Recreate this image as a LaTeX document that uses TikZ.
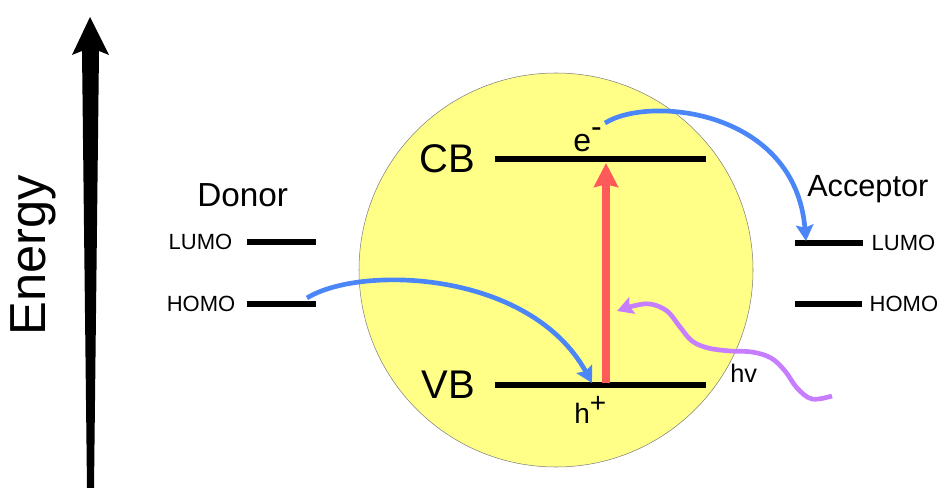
\documentclass[tikz,border=0pt]{standalone}
\usepackage{fontspec}
\setmainfont{Liberation Sans}
\usetikzlibrary{arrows.meta}
\definecolor{dotfill}{RGB}{255,255,136}
\definecolor{transferblue}{RGB}{74,134,247}
\definecolor{excitered}{RGB}{255,90,90}
\definecolor{photonpurple}{RGB}{199,125,255}

\begin{document}
\begin{tikzpicture}[x=0.75pt,y=0.75pt,yscale=-1,xscale=1,
  bandline/.style={line width=4.5pt},
  transfer/.style={color=transferblue, line width=3.5pt, -{Stealth[length=12pt,width=13pt,inset=2pt]}},
  photon/.style={color=photonpurple, line width=3.5pt, -{Stealth[length=12pt,width=13pt,inset=2pt]}}]
\useasboundingbox (0,0) rectangle (945,488);

%Shape: Energy axis
\fill (87,488) -- (94,488) -- (99,51) -- (109,55) -- (90,17) -- (72,55) -- (82,51) -- cycle ;
% Text Node
\node [rotate=90, font=\fontsize{38}{42}\selectfont] (energy) at (33,255) {Energy};

%Shape: Circle (particle)
\draw [color=gray, line width=0.4pt, fill=dotfill] (556,270) circle [radius=197] ;

%Straight Lines: bands and levels
\coordinate (cbA) at (495,159) ; \coordinate (cbB) at (706,159) ;
\coordinate (vbA) at (495,385) ; \coordinate (vbB) at (706,385) ;
\coordinate (dLumoA) at (247,242) ; \coordinate (dLumoB) at (316,242) ;
\coordinate (dHomoA) at (247,304) ; \coordinate (dHomoB) at (316,304) ;
\coordinate (aLumoA) at (795,243) ; \coordinate (aLumoB) at (863,243) ;
\coordinate (aHomoA) at (795,304) ; \coordinate (aHomoB) at (862,304) ;
\draw [bandline] (cbA) -- (cbB) ;
\draw [bandline] (vbA) -- (vbB) ;
\draw [bandline] (dLumoA) -- (dLumoB) ;
\draw [bandline] (dHomoA) -- (dHomoB) ;
\draw [bandline] (aLumoA) -- (aLumoB) ;
\draw [bandline] (aHomoA) -- (aHomoB) ;

%Straight Lines: excitation
\coordinate (excStart) at (606,383) ; \coordinate (excEnd) at (606,163) ;
\draw [color=excitered, line width=5.5pt, -{Stealth[length=18pt,width=18pt,inset=2pt]}] (excStart) -- (excEnd) ;

%Curves: charge transfer
\coordinate (holeIn) at (592,383) ; \coordinate (elecOut) at (605,123) ;
\coordinate (donorOut) at (307,298) ; \coordinate (accIn) at (806,241) ;
\draw [transfer] (donorOut) .. controls (360,265) and (530,270) .. (holeIn) ;
\draw [transfer] (elecOut) .. controls (650,95) and (795,110) .. (accIn) ;

%Curve: photon
\coordinate (photonTip) at (617,311) ;
\draw [photon] plot [smooth, tension=0.6] coordinates {(832,396) (812,399) (797,388) (785,371) (771,358) (752,352) (730,351) (708,348) (692,341) (680,327) (667,311) (650,304) (633,306) (photonTip)} ;

% Text Node
\node [anchor=east, font=\fontsize{30}{33}\selectfont] (cb) at (480,159) {CB};
% Text Node
\node [anchor=east, font=\fontsize{30}{33}\selectfont] (vb) at (480,385) {VB};
% Text Node
\node [anchor=base west, inner sep=0pt, font=\fontsize{24}{28}\selectfont] (elec) at (573,152) {e\raisebox{11pt}{-}};
% Text Node
\node [anchor=base west, inner sep=0pt, font=\fontsize{21}{25}\selectfont] (hole) at (574,423) {h\raisebox{8pt}{+}};
% Text Node
\node [anchor=base west, inner sep=0pt, font=\fontsize{19}{23}\selectfont] (hv) at (730,382) {hv};
% Text Node
\node [anchor=base west, inner sep=0pt, font=\fontsize{25}{29}\selectfont] (donor) at (197,207) {Donor};
% Text Node
\node [anchor=base west, inner sep=0pt, font=\fontsize{23}{27}\selectfont] (acceptor) at (807,197) {Acceptor};
% Text Node
\node [anchor=east, font=\fontsize{16.5}{20}\selectfont] (dLumo) at (237,242) {LUMO};
% Text Node
\node [anchor=east, font=\fontsize{16.5}{20}\selectfont] (dHomo) at (240,304) {HOMO};
% Text Node
\node [anchor=west, font=\fontsize{16.5}{20}\selectfont] (aLumo) at (867,243) {LUMO};
% Text Node
\node [anchor=west, font=\fontsize{16.5}{20}\selectfont] (aHomo) at (865,304) {HOMO};

\end{tikzpicture}
\end{document}
